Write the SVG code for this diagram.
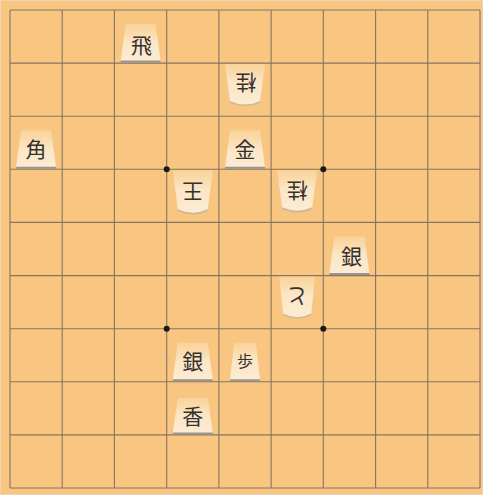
<svg xmlns="http://www.w3.org/2000/svg" width="483" height="495" viewBox="0 0 483 495">
<defs>
<linearGradient id="gu" x1="0" y1="0" x2="0" y2="1"><stop offset="0" stop-color="#FBE0B4" stop-opacity="0.5"/><stop offset="0.5" stop-color="#FBE6C6"/><stop offset="1" stop-color="#FCECD4"/></linearGradient>
<linearGradient id="gd" x1="0" y1="0" x2="0" y2="1"><stop offset="0" stop-color="#FBE0B4" stop-opacity="0.5"/><stop offset="0.45" stop-color="#FBE6C6"/><stop offset="1" stop-color="#FCECD4"/></linearGradient>
<style>
.grid line{stroke:#857463;stroke-width:1.1}
.dot{fill:#1a1a1a}
.pu{fill:url(#gu)}
.pd{fill:url(#gd)}
.sh{stroke:#9A9590;stroke-width:2;fill:none}
.shd{stroke:#C9B8A0;stroke-width:1.5;fill:none}
.g{font-family:"Noto Sans CJK JP","Noto Sans CJK SC",sans-serif;font-size:21px;fill:#353130;text-anchor:middle;dominant-baseline:central}
.gs{font-size:16px}
</style>
</defs>
<rect width="483" height="495" fill="#F8C680"/>
<rect x="0.5" y="0.5" width="482" height="494" fill="none" stroke="#EBD6B8" stroke-width="1"/>
<g class="grid" id="board">
<line x1="10" y1="10" x2="10" y2="488"/>
<line x1="62.2" y1="10" x2="62.2" y2="488"/>
<line x1="114.4" y1="10" x2="114.4" y2="488"/>
<line x1="166.7" y1="10" x2="166.7" y2="488"/>
<line x1="218.9" y1="10" x2="218.9" y2="488"/>
<line x1="271.1" y1="10" x2="271.1" y2="488"/>
<line x1="323.3" y1="10" x2="323.3" y2="488"/>
<line x1="375.6" y1="10" x2="375.6" y2="488"/>
<line x1="427.8" y1="10" x2="427.8" y2="488"/>
<line x1="480" y1="10" x2="480" y2="488"/>
<line x1="10" y1="10" x2="480" y2="10"/>
<line x1="10" y1="63.1" x2="480" y2="63.1"/>
<line x1="10" y1="116.2" x2="480" y2="116.2"/>
<line x1="10" y1="169.3" x2="480" y2="169.3"/>
<line x1="10" y1="222.4" x2="480" y2="222.4"/>
<line x1="10" y1="275.6" x2="480" y2="275.6"/>
<line x1="10" y1="328.7" x2="480" y2="328.7"/>
<line x1="10" y1="381.8" x2="480" y2="381.8"/>
<line x1="10" y1="434.9" x2="480" y2="434.9"/>
<line x1="10" y1="488" x2="480" y2="488"/>
<circle class="dot" cx="166.7" cy="169.3" r="3"/>
<circle class="dot" cx="323.3" cy="169.3" r="3"/>
<circle class="dot" cx="166.7" cy="328.7" r="3"/>
<circle class="dot" cx="323.3" cy="328.7" r="3"/>
</g>
<g id="hisha" transform="translate(140.6,62.1)">
<path class="pu" d="M-15,-38 L15,-38 L20,-1 L-20,-1 Z"/><line class="sh" x1="-20" y1="-0.5" x2="20" y2="-0.5"/>
<text class="g" x="1" y="-18">飛</text></g>
<g id="keima1" transform="translate(245,63.1)">
<path class="pd" d="M-20,1 L20,1 L15,38 Q0,45 -15,38 Z"/><path class="shd" d="M-15,39 Q0,46 15,39"/>
<text class="g" transform="translate(1,21) rotate(180)">桂</text></g>
<g id="kaku" transform="translate(36.1,168.3)">
<path class="pu" d="M-15,-38 L15,-38 L20,-1 L-20,-1 Z"/><line class="sh" x1="-20" y1="-0.5" x2="20" y2="-0.5"/>
<text class="g" x="0" y="-20">角</text></g>
<g id="kin" transform="translate(245,168.3)">
<path class="pu" d="M-15,-38 L15,-38 L20,-1 L-20,-1 Z"/><line class="sh" x1="-20" y1="-0.5" x2="20" y2="-0.5"/>
<text class="g" x="0" y="-20">金</text></g>
<g id="ou" transform="translate(192.8,169.3)">
<path class="pd" d="M-20,1 L20,1 L15,40 Q0,47 -15,40 Z"/><path class="shd" d="M-15,41 Q0,48 15,41"/>
<text class="g" transform="translate(0,24) rotate(180)">王</text></g>
<g id="keima2" transform="translate(297.2,169.3)">
<path class="pd" d="M-20,1 L20,1 L15,38 Q0,45 -15,38 Z"/><path class="shd" d="M-15,39 Q0,46 15,39"/>
<text class="g" transform="translate(0,23) rotate(180)">桂</text></g>
<g id="gin1" transform="translate(349.4,274.6)">
<path class="pu" d="M-15,-38 L15,-38 L20,-1 L-20,-1 Z"/><line class="sh" x1="-20" y1="-0.5" x2="20" y2="-0.5"/>
<text class="g" x="2" y="-20">銀</text></g>
<g id="tokin" transform="translate(297.2,275.6)">
<path class="pd" d="M-18,1 L18,1 L14,38 Q0,45 -14,38 Z"/><path class="shd" d="M-14,39 Q0,46 14,39"/>
<text class="g" transform="translate(0,22) rotate(180)">と</text></g>
<g id="gin2" transform="translate(192.8,380.8)">
<path class="pu" d="M-15,-38 L15,-38 L20,-1 L-20,-1 Z"/><line class="sh" x1="-20" y1="-0.5" x2="20" y2="-0.5"/>
<text class="g" x="0" y="-21">銀</text></g>
<g id="fu" transform="translate(245,380.8)">
<path class="pu" d="M-11,-38 L11,-38 L15,-1 L-15,-1 Z"/><line class="sh" x1="-15" y1="-0.5" x2="15" y2="-0.5"/>
<text class="g gs" x="0" y="-21">歩</text></g>
<g id="kyosha" transform="translate(192.8,433.9)">
<path class="pu" d="M-15,-36 L15,-36 L20,-1 L-20,-1 Z"/><line class="sh" x1="-20" y1="-0.5" x2="20" y2="-0.5"/>
<text class="g" x="0" y="-19">香</text></g>
</svg>
